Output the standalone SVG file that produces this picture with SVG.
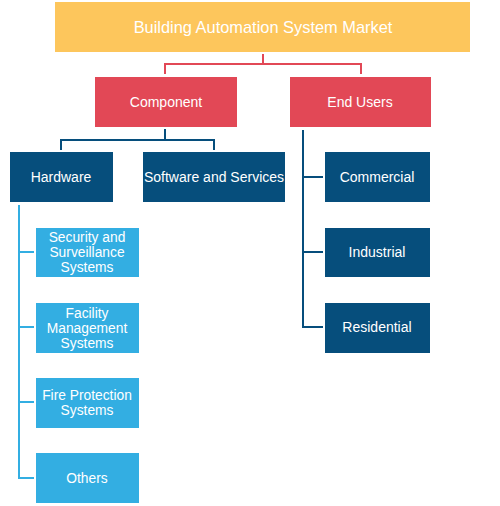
<svg xmlns="http://www.w3.org/2000/svg" width="500" height="506" viewBox="0 0 500 506">
<style>
text{font-family:"Liberation Sans",Arial,sans-serif;fill:#fff;text-anchor:middle;dominant-baseline:central}
.t{font-size:16.4px}
.m{font-size:14px}
.s{font-size:13.8px}
.y{fill:#FDC65C}
.r{fill:#E24856}
.d{fill:#064E7C}
.l{fill:#33AEE2}
.c{fill:none;stroke-width:2}
</style>
<rect width="500" height="506" fill="#fff"/>
<g id="connectors">
<path class="c" stroke="#E24856" d="M263 54V64M165 74V64H361V74"/>
<path class="c" stroke="#064E7C" d="M165 129V140M61 150V140H214V150"/>
<path class="c" stroke="#064E7C" d="M303 130V327H323M303 177H323M303 252H323"/>
<path class="c" stroke="#33AEE2" d="M19 205V478H34M19 252H34M19 327H34M19 402H34"/>
</g>
<g id="root"><rect class="y" x="55" y="2" width="415" height="50"/><text class="t" x="263" y="27">Building Automation System Market</text></g>
<g id="component"><rect class="r" x="95" y="77" width="142" height="50"/><text class="m" x="166" y="102">Component</text></g>
<g id="endusers"><rect class="r" x="290" y="77" width="141" height="50"/><text class="m" x="360" y="102">End Users</text></g>
<g id="hardware"><rect class="d" x="10" y="152" width="103" height="50"/><text class="m" x="61" y="177">Hardware</text></g>
<g id="software"><rect class="d" x="143" y="152" width="142" height="50"/><text class="m" x="214" y="177">Software and Services</text></g>
<g id="commercial"><rect class="d" x="325" y="152" width="105" height="50"/><text class="m" x="377" y="177">Commercial</text></g>
<g id="industrial"><rect class="d" x="325" y="228" width="105" height="49"/><text class="m" x="377" y="252">Industrial</text></g>
<g id="residential"><rect class="d" x="325" y="303" width="105" height="50"/><text class="m" x="377" y="327">Residential</text></g>
<g id="security"><rect class="l" x="36" y="228" width="103" height="49"/><text class="s" x="87" y="237">Security and</text><text class="s" x="87" y="252">Surveillance</text><text class="s" x="87" y="267">Systems</text></g>
<g id="facility"><rect class="l" x="36" y="303" width="103" height="50"/><text class="s" x="87" y="313">Facility</text><text class="s" x="87" y="328">Management</text><text class="s" x="87" y="343">Systems</text></g>
<g id="fire"><rect class="l" x="36" y="378" width="103" height="50"/><text class="s" x="87" y="395">Fire Protection</text><text class="s" x="87" y="410">Systems</text></g>
<g id="others"><rect class="l" x="36" y="453" width="103" height="50"/><text class="s" x="87" y="478">Others</text></g>
</svg>
